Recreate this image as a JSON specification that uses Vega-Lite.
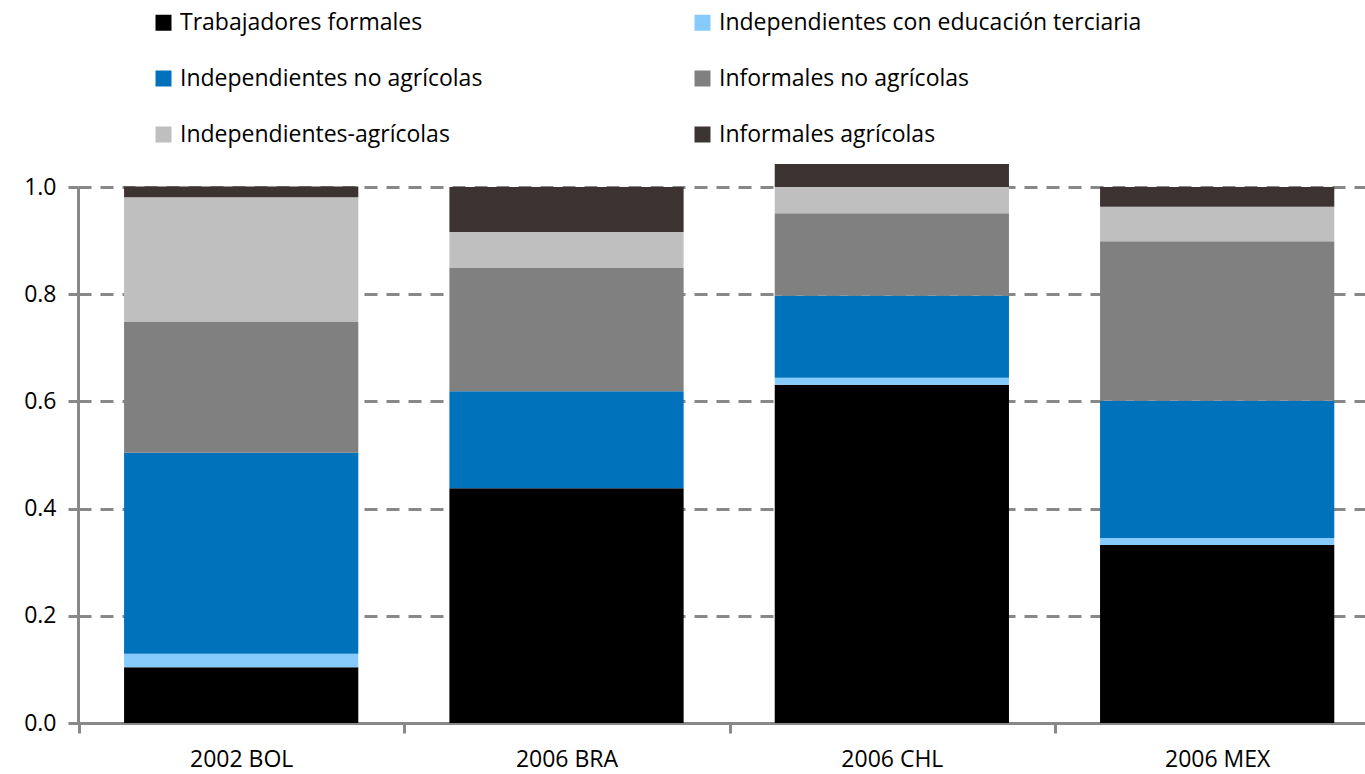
{
  "$schema": "https://vega.github.io/schema/vega-lite/v6.json",
  "width": 1287,
  "height": 536,
  "autosize": {"type": "none"},
  "padding": {"left": 78, "top": 187, "right": 0, "bottom": 51},
  "background": "white",
  "config": {
    "font": "Open Sans",
    "view": {"stroke": null}
  },
  "data": {
    "values": [
      {"pais": "2002 BOL", "categoria": "Trabajadores formales", "orden": 1, "valor": 0.104},
      {"pais": "2002 BOL", "categoria": "Independientes con educación terciaria", "orden": 2, "valor": 0.025},
      {"pais": "2002 BOL", "categoria": "Independientes no agrícolas", "orden": 3, "valor": 0.375},
      {"pais": "2002 BOL", "categoria": "Informales no agrícolas", "orden": 4, "valor": 0.244},
      {"pais": "2002 BOL", "categoria": "Independientes-agrícolas", "orden": 5, "valor": 0.233},
      {"pais": "2002 BOL", "categoria": "Informales agrícolas", "orden": 6, "valor": 0.02},
      {"pais": "2006 BRA", "categoria": "Trabajadores formales", "orden": 1, "valor": 0.438},
      {"pais": "2006 BRA", "categoria": "Independientes con educación terciaria", "orden": 2, "valor": 0.0},
      {"pais": "2006 BRA", "categoria": "Independientes no agrícolas", "orden": 3, "valor": 0.181},
      {"pais": "2006 BRA", "categoria": "Informales no agrícolas", "orden": 4, "valor": 0.23},
      {"pais": "2006 BRA", "categoria": "Independientes-agrícolas", "orden": 5, "valor": 0.067},
      {"pais": "2006 BRA", "categoria": "Informales agrícolas", "orden": 6, "valor": 0.084},
      {"pais": "2006 CHL", "categoria": "Trabajadores formales", "orden": 1, "valor": 0.631},
      {"pais": "2006 CHL", "categoria": "Independientes con educación terciaria", "orden": 2, "valor": 0.013},
      {"pais": "2006 CHL", "categoria": "Independientes no agrícolas", "orden": 3, "valor": 0.153},
      {"pais": "2006 CHL", "categoria": "Informales no agrícolas", "orden": 4, "valor": 0.154},
      {"pais": "2006 CHL", "categoria": "Independientes-agrícolas", "orden": 5, "valor": 0.049},
      {"pais": "2006 CHL", "categoria": "Informales agrícolas", "orden": 6, "valor": 0.043},
      {"pais": "2006 MEX", "categoria": "Trabajadores formales", "orden": 1, "valor": 0.332},
      {"pais": "2006 MEX", "categoria": "Independientes con educación terciaria", "orden": 2, "valor": 0.013},
      {"pais": "2006 MEX", "categoria": "Independientes no agrícolas", "orden": 3, "valor": 0.256},
      {"pais": "2006 MEX", "categoria": "Informales no agrícolas", "orden": 4, "valor": 0.298},
      {"pais": "2006 MEX", "categoria": "Independientes-agrícolas", "orden": 5, "valor": 0.064},
      {"pais": "2006 MEX", "categoria": "Informales agrícolas", "orden": 6, "valor": 0.037}
    ]
  },
  "mark": {"type": "bar", "clip": false},
  "encoding": {
    "x": {
      "field": "pais",
      "type": "nominal",
      "sort": null,
      "title": null,
      "scale": {"paddingInner": 0.28, "paddingOuter": 0.118, "align": 0.6},
      "axis": {
        "labelAngle": 0,
        "labelFontSize": 23,
        "labelColor": "black",
        "labelPadding": 15,
        "domainColor": "#888888",
        "domainWidth": 3,
        "tickColor": "#888888",
        "tickWidth": 3,
        "tickSize": 10,
        "bandPosition": 0,
        "tickOffset": -45,
        "labelOffset": 45,
        "grid": false
      }
    },
    "y": {
      "field": "valor",
      "type": "quantitative",
      "stack": "zero",
      "title": null,
      "scale": {"domain": [0, 1], "nice": false},
      "axis": {
        "values": [0, 0.2, 0.4, 0.6, 0.8, 1.0],
        "format": ".1f",
        "labelFontSize": 23,
        "labelColor": "black",
        "labelPadding": 12,
        "domainColor": "#888888",
        "domainWidth": 3,
        "tickColor": "#888888",
        "tickWidth": 3,
        "tickSize": 10,
        "grid": true,
        "gridColor": "#888888",
        "gridWidth": 3,
        "gridDash": [13, 9]
      }
    },
    "color": {
      "field": "categoria",
      "type": "nominal",
      "sort": null,
      "scale": {
        "domain": [
          "Trabajadores formales",
          "Independientes con educación terciaria",
          "Independientes no agrícolas",
          "Informales no agrícolas",
          "Independientes-agrícolas",
          "Informales agrícolas"
        ],
        "range": ["#000000", "#87CBFD", "#0072BC", "#808080", "#BFBFBF", "#3E3333"]
      },
      "legend": {
        "title": null,
        "orient": "none",
        "direction": "horizontal",
        "legendX": 74,
        "legendY": -176,
        "columns": 2,
        "gridAlign": "all",
        "columnPadding": 88,
        "rowPadding": 32,
        "symbolType": "square",
        "symbolSize": 256,
        "symbolStrokeWidth": 0,
        "labelFontSize": 23,
        "labelColor": "black",
        "labelOffset": 5,
        "labelLimit": 600
      }
    },
    "order": {"field": "orden", "type": "quantitative"}
  }
}
